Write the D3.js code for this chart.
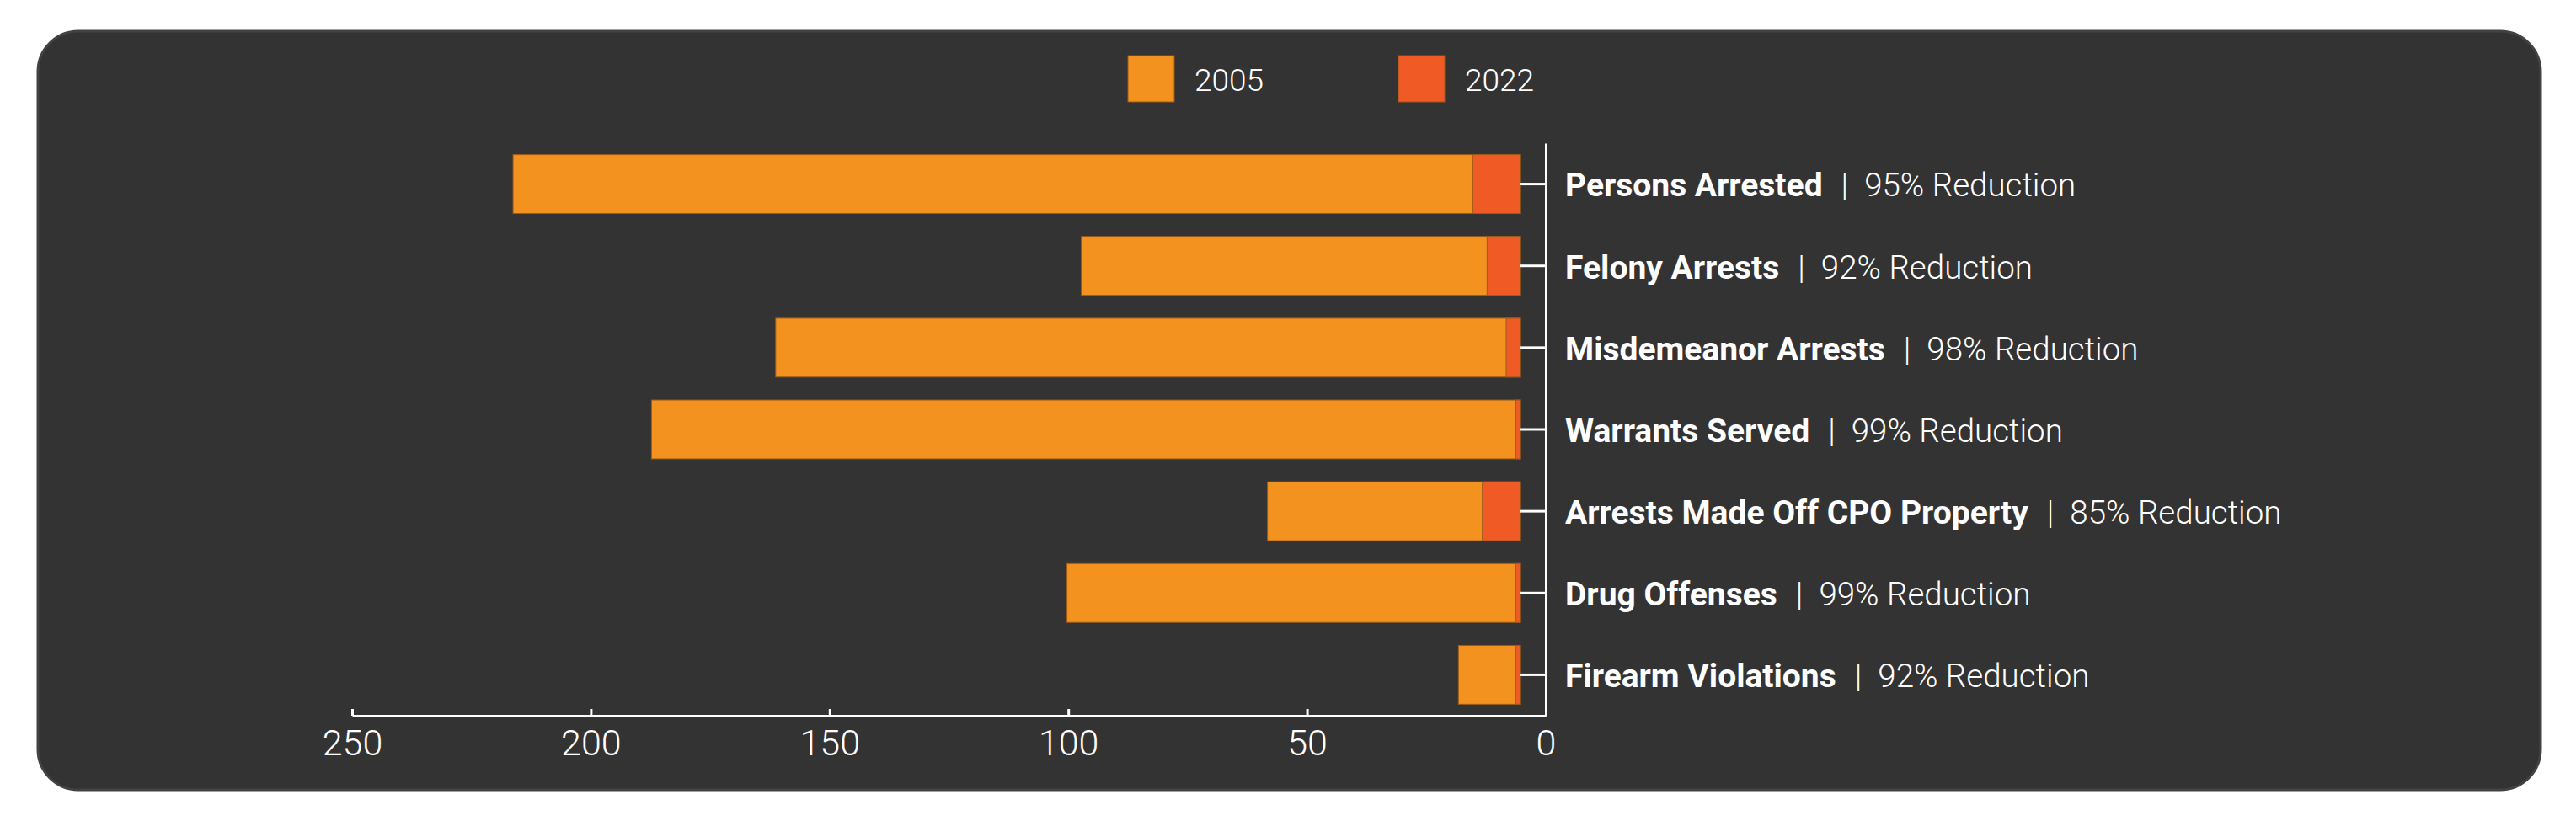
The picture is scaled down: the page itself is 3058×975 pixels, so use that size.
<!DOCTYPE html>
<html>
<head>
<meta charset="utf-8">
<script src="https://cdn.jsdelivr.net/npm/d3@7"></script>
<style>
  html, body { margin: 0; padding: 0; background: #ffffff; }
  svg { display: block; }
</style>
</head>
<body>
<svg id="chart" width="3058" height="975"></svg>
<script>
const categories = ["Persons Arrested", "Felony Arrests", "Misdemeanor Arrests", "Warrants Served", "Arrests Made Off CPO Property", "Drug Offenses", "Firearm Violations"];
const reductions = ["95% Reduction", "92% Reduction", "98% Reduction", "99% Reduction", "85% Reduction", "99% Reduction", "92% Reduction"];
const values2005 = [211, 92, 156, 182, 53, 95, 13];
const values2022 = [10, 7, 3, 1, 8, 1, 1];
const seriesNames = ["2005", "2022"];
const xTickValues = [0, 50, 100, 150, 200, 250];

const colors = { "2005": "#F3921F", "2022": "#F05A24" };
const barStroke = "#9a5a1c";

const svg = d3.select("#chart");

// panel
svg.append("rect")
  .attr("x", 45).attr("y", 37)
  .attr("width", 2971).attr("height", 901)
  .attr("rx", 48).attr("ry", 48)
  .attr("fill", "#333333")
  .attr("stroke", "#424242")
  .attr("stroke-width", 3);

const x = d3.scaleLinear().domain([0, 250]).range([1835, 418]);
const y = d3.scaleBand().domain(categories).range([170, 850]).paddingInner(0.28).paddingOuter(0.14);
const tickLen = 30;

const rows = categories.map((c, i) => ({ cat: c, v2005: values2005[i], v2022: values2022[i], red: reductions[i] }));

// bars: 2005 then 2022 overlaid
const barG = svg.append("g").attr("transform", `translate(${-tickLen},0)`);
barG.selectAll("rect.b2005").data(rows).join("rect")
  .attr("class", "b2005")
  .attr("x", d => x(d.v2005))
  .attr("y", d => y(d.cat))
  .attr("width", d => x(0) - x(d.v2005))
  .attr("height", y.bandwidth())
  .attr("fill", colors["2005"])
  .attr("stroke", barStroke).attr("stroke-width", 1);
barG.selectAll("rect.b2022").data(rows).join("rect")
  .attr("class", "b2022")
  .attr("x", d => x(d.v2022))
  .attr("y", d => y(d.cat))
  .attr("width", d => x(0) - x(d.v2022))
  .attr("height", y.bandwidth())
  .attr("fill", colors["2022"])
  .attr("stroke", barStroke).attr("stroke-width", 1);

// y axis
const yAxisG = svg.append("g")
  .attr("transform", `translate(${x(0)},0)`)
  .call(d3.axisLeft(y).tickSize(tickLen).tickSizeOuter(0).tickFormat(""));
yAxisG.selectAll("path.domain").attr("stroke", "#ffffff").attr("stroke-width", 3);
yAxisG.selectAll(".tick line").attr("stroke", "#ffffff").attr("stroke-width", 3);

// x axis
const xAxisG = svg.append("g")
  .attr("transform", `translate(0,850)`)
  .call(d3.axisBottom(x).tickValues(xTickValues).tickSize(-8).tickSizeOuter(0).tickPadding(16));
xAxisG.selectAll("path.domain").attr("stroke", "#ffffff").attr("stroke-width", 3);
xAxisG.selectAll(".tick line").attr("stroke", "#ffffff").attr("stroke-width", 3);
xAxisG.selectAll(".tick text")
  .attr("fill", "#ffffff")
  .attr("font-family", "Roboto, 'Open Sans', sans-serif")
  .attr("font-weight", 300)
  .attr("font-size", 43);

// category labels
const labels = svg.append("g");
const lt = labels.selectAll("text").data(rows).join("text")
  .attr("x", x(0) + 23)
  .attr("y", d => y(d.cat) + y.bandwidth() / 2)
  .attr("font-size", 39)
  .attr("dy", "0.38em")
  .attr("fill", "#ffffff")
  .attr("font-family", "Roboto, 'Open Sans', sans-serif");
lt.append("tspan").attr("font-weight", 700).attr("font-size", 39).text(d => d.cat);
lt.append("tspan").attr("font-weight", 300).attr("font-size", 38.5).attr("dx", 22).text("|");
lt.append("tspan").attr("font-weight", 300).attr("font-size", 38.5).attr("dx", 19).text(d => d.red);

// legend
const legendX = [1339, 1660];
const legend = svg.append("g");
seriesNames.forEach((s, i) => {
  legend.append("rect")
    .attr("x", legendX[i]).attr("y", 66)
    .attr("width", 55).attr("height", 55)
    .attr("fill", colors[s])
    .attr("stroke", barStroke).attr("stroke-width", 1);
  legend.append("text")
    .attr("x", legendX[i] + 79).attr("y", 108)
    .attr("fill", "#ffffff")
    .attr("font-family", "Roboto, 'Open Sans', sans-serif")
    .attr("font-weight", 300)
    .attr("font-size", 37)
    .text(s);
});
</script>
</body>
</html>
